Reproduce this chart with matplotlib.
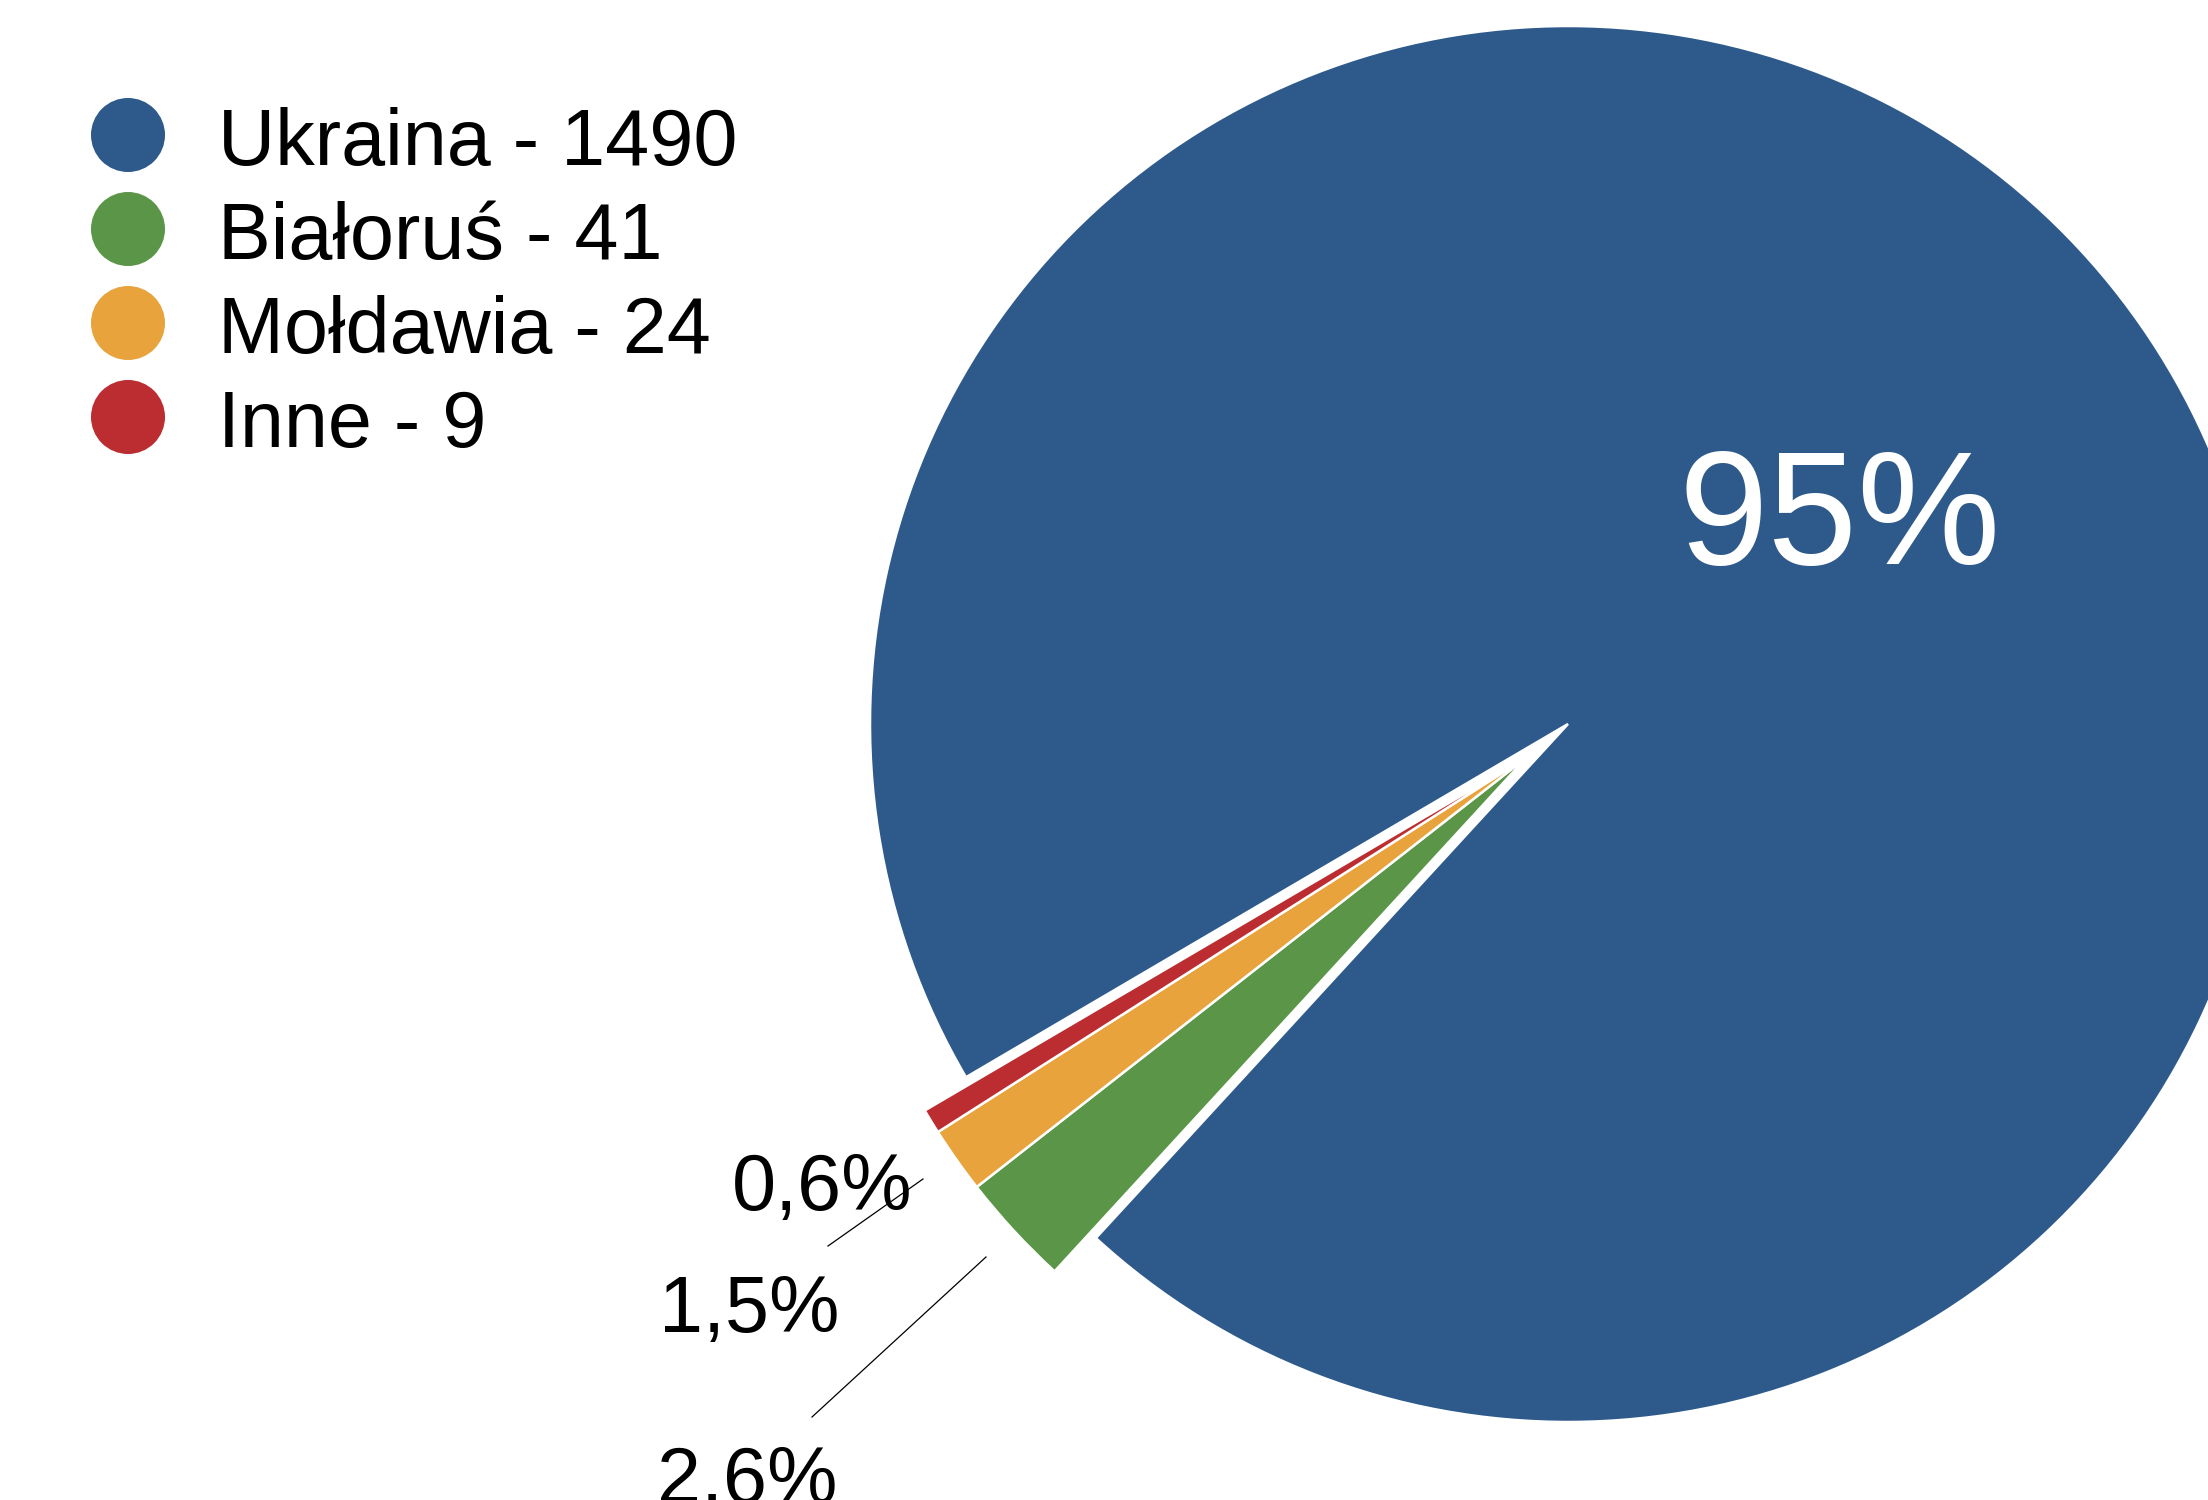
import matplotlib
matplotlib.use("Agg")
import matplotlib.pyplot as plt
import numpy as np

categories = ["Ukraina", "Białoruś", "Mołdawia", "Inne"]
values = [1490, 41, 24, 9]
colors = ["#2E5A8B", "#5B9648", "#E8A33C", "#BB2D30"]

plt.rcParams['font.family'] = ['Liberation Sans', 'DejaVu Sans']

W, H = 2208, 1500
fig = plt.figure(figsize=(W / 100, H / 100), dpi=100)
ax = fig.add_axes([0, 0, 1, 1])

total = sum(values)
R = 698
C = (1568, 776)
START = 210.4
OFFSET = 53

def fmt(p):
    return f"{p:.0f}%" if p > 50 else ""

wedges, texts, autotexts = ax.pie(
    values, colors=colors, startangle=START, counterclock=False,
    radius=R, center=C, autopct=fmt, pctdistance=0.5,
    wedgeprops=dict(edgecolor="white", linewidth=1.8),
    textprops=dict(fontsize=116, color="white"))
for w in wedges:
    w.set_clip_on(True)

# pull the small slices out together along the group's mid-angle
group_start = START
group_end = START + 360 * sum(values[1:]) / total
gmid = np.deg2rad((group_start + group_end) / 2)
for w in wedges[1:]:
    w.set_center((C[0] + OFFSET * np.cos(gmid), C[1] + OFFSET * np.sin(gmid)))

for t in autotexts:
    x, y = t.get_position()
    t.set_position((x, y - 18))

ax.set_xlim(0, W)
ax.set_ylim(0, H)
ax.set_aspect('equal')
ax.axis('off')

# external labels for small slices
pct = [v / total * 100 for v in values]
lab = [f"{p:.1f}%".replace(".", ",") for p in pct]
label_pos = {3: (732, 290), 2: (659, 168), 1: (657, -3)}
for i, (lx, ly) in label_pos.items():
    ax.text(lx, ly, lab[i], fontsize=57, color="black", ha="left", va="baseline")

# leader lines
ax.plot([923, 828], [321, 254], color="black", lw=0.9)
ax.plot([986, 812], [243, 83], color="black", lw=0.9)

# legend
for k, (name, val, col) in enumerate(zip(categories, values, colors)):
    cy = 1500 - (135 + 94 * k)
    ax.scatter([128], [cy], s=2840, color=col, edgecolors="none")
    ax.text(218, cy - 30, f"{name} - {val}", fontsize=57, color="black",
            ha="left", va="baseline")

fig.savefig("out.png", dpi=100)
